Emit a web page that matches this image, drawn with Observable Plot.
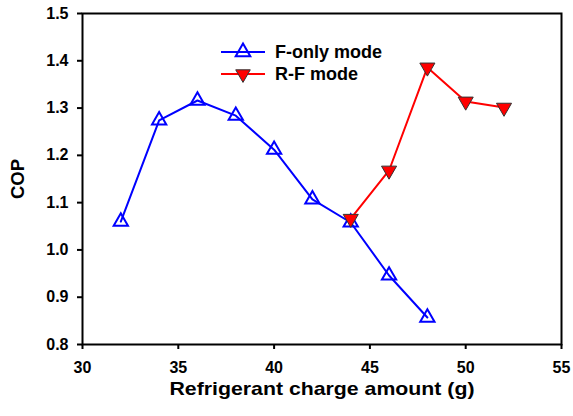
<!DOCTYPE html>
<html>
<head>
<meta charset="utf-8">
<script src="https://cdn.jsdelivr.net/npm/d3@7"></script>
<script src="https://cdn.jsdelivr.net/npm/@observablehq/plot@0.6"></script>
<style>
  html, body { margin: 0; padding: 0; background: #fff; }
  #wrap { position: relative; width: 573px; height: 416px; font-family: "Liberation Sans", Arial, sans-serif; }
  #legend { position: absolute; left: 221px; top: 41px; font-weight: bold; font-size: 18px; color: #000; }
  #legend .row { display: flex; align-items: center; height: 22px; }
  #legend svg { margin-right: 10px; }
</style>
</head>
<body>
<div id="wrap"><div id="legend"></div></div>
<script>
const chargeFOnly = [32, 34, 36, 38, 40, 42, 44, 46, 48];
const copFOnly = [1.060, 1.274, 1.316, 1.284, 1.212, 1.107, 1.058, 0.946, 0.857];
const chargeRF = [44, 46, 48, 50, 52];
const copRF = [1.066, 1.168, 1.386, 1.314, 1.301];
const seriesNames = ["F-only mode", "R-F mode"];
const xTicks = [30, 35, 40, 45, 50, 55];
const yTicks = [0.8, 0.9, 1.0, 1.1, 1.2, 1.3, 1.4, 1.5];

const fOnly = chargeFOnly.map((x, i) => ({x, y: copFOnly[i]}));
const rf = chargeRF.map((x, i) => ({x, y: copRF[i]}));

const blue = "#0000ff", red = "#ff0000";

const chart = Plot.plot({
  width: 573,
  height: 416,
  marginLeft: 82,
  marginRight: 12,
  marginTop: 13,
  marginBottom: 72,
  style: {fontFamily: "'Liberation Sans', Arial, sans-serif", fontWeight: "bold", fontSize: "15px", color: "#000", background: "#fff"},
  x: {domain: [30, 55], label: null},
  y: {domain: [0.8, 1.5], label: null},
  marks: [
    Plot.axisX({ticks: xTicks, tickSize: 5, tickPadding: 12, strokeWidth: 2, label: null}),
    Plot.axisY({ticks: yTicks, tickFormat: d3.format(".1f"), tickSize: 5, tickPadding: 9, strokeWidth: 2, label: null}),
    Plot.axisX({ticks: [], label: "Refrigerant charge amount (g)", labelAnchor: "center", labelArrow: "none", labelOffset: 50}),
    Plot.axisY({ticks: [], label: "COP", labelAnchor: "center", labelArrow: "none", labelOffset: 72}),
    Plot.line(fOnly, {x: "x", y: "y", stroke: blue, strokeWidth: 2}),
    Plot.line(rf, {x: "x", y: "y", stroke: red, strokeWidth: 2}),
    Plot.dot(fOnly, {x: "x", y: "y", symbol: "triangle", r: 5.3, stroke: blue, strokeWidth: 2, fill: "none"}),
    Plot.dot(rf, {x: "x", y: "y", symbol: "triangle", r: 5.6, rotate: 180, fill: red, stroke: "#333", strokeWidth: 1}),
    Plot.frame({stroke: "#000", strokeWidth: 2})
  ]
});
document.getElementById("wrap").prepend(chart);

// font sizes
d3.select(chart).selectAll('g[aria-label="x-axis tick label"], g[aria-label="y-axis tick label"]')
  .style("font-size", "16px");
d3.select(chart).selectAll('g[aria-label="x-axis label"], g[aria-label="y-axis label"]')
  .style("font-size", "18.5px");
d3.select(chart).selectAll('g[aria-label="x-axis label"] text')
  .attr("textLength", 305).attr("lengthAdjust", "spacingAndGlyphs");

// legend
const leg = document.getElementById("legend");
const tri = d3.symbol(d3.symbolTriangle, Math.PI * 5.4 * 5.4)();
const styles = [
  {color: blue, path: `<path d="${tri}" transform="translate(22,11)" fill="none" stroke="${blue}" stroke-width="2"/>`},
  {color: red, path: `<path d="${tri}" transform="translate(22,11) rotate(180)" fill="${red}" stroke="#333" stroke-width="1"/>`}
];
seriesNames.forEach((name, i) => {
  const row = document.createElement("div");
  row.className = "row";
  row.innerHTML = `<svg width="44" height="22"><line x1="0" x2="44" y1="11" y2="11" stroke="${styles[i].color}" stroke-width="2"/>${styles[i].path}</svg><span>${name}</span>`;
  leg.appendChild(row);
});
</script>
</body>
</html>
